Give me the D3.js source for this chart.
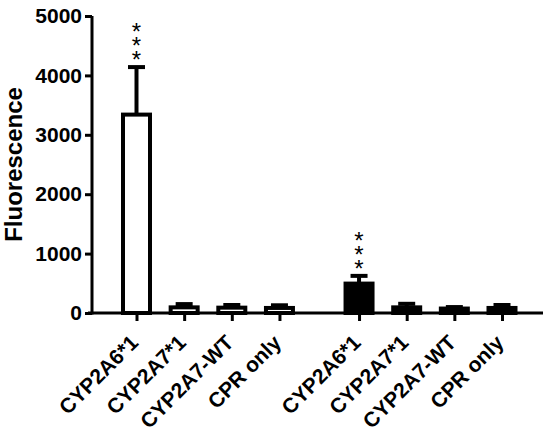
<!DOCTYPE html>
<html>
<head>
<meta charset="utf-8">
<script src="https://cdn.jsdelivr.net/npm/d3@7"></script>
<style>
  body { margin: 0; background: #fff; }
  svg text { font-family: "Liberation Sans", Arial, sans-serif; }
</style>
</head>
<body>
<div id="chart"></div>
<script>
// data
var categories = ["CYP2A6*1", "CYP2A7*1", "CYP2A7-WT", "CPR only"];
var groupFill = ["#fff", "#000"];
var means = [
    [3340, 95, 90, 85],
    [495, 95, 75, 85]
];
var errors = [
    [800, 55, 45, 45],
    [130, 60, 25, 50]
];
var stars = [
    ["***", "", "", ""],
    ["***", "", "", ""]
];
var yTicks = [0, 1000, 2000, 3000, 4000, 5000];

var margin = { top: 16, right: 7, bottom: 120, left: 92 },
    width = 550 - margin.left - margin.right,
    height = 433 - margin.top - margin.bottom;

var svg = d3.select("#chart")
    .append("svg")
    .attr("width", 550)
    .attr("height", 433)
    .append("g")
    .attr("transform", `translate(${margin.left},${margin.top})`);

// flatten groups into slots, leaving a gap between the two groups
var groupGap = 0.67;
var rows = [];
means.forEach(function (g, gi) {
    g.forEach(function (v, i) {
        rows.push({
            label: categories[i],
            slot: gi * (categories.length + groupGap) + i,
            value: v,
            err: errors[gi][i],
            star: stars[gi][i],
            fill: groupFill[gi]
        });
    });
});

var x = d3.scaleLinear()
    .domain([0, d3.max(rows, d => d.slot)])
    .range([44.5, 410]);

var y = d3.scaleLinear()
    .domain([0, 5000])
    .range([height, 0]);

var barW = 27;

// y axis
var yAxis = svg.append("g")
    .call(d3.axisLeft(y).tickValues(yTicks).tickFormat(d3.format("d"))
        .tickSize(7).tickPadding(3).tickSizeOuter(0));
yAxis.select(".domain").attr("stroke-width", 3).attr("d", `M0,${height + 1.5}V0`);
yAxis.selectAll(".tick line").attr("stroke-width", 3);
yAxis.selectAll(".tick text")
    .style("font-size", "21px")
    .style("font-weight", "bold")
    .attr("fill", "#000");

// x axis
var xAxis = svg.append("g")
    .attr("transform", `translate(0,${height})`)
    .call(d3.axisBottom(x).tickValues(rows.map(d => d.slot)).tickSize(8).tickFormat("").tickSizeOuter(0));
xAxis.select(".domain").attr("stroke-width", 3).attr("d", `M-4,0H${width}`);
xAxis.selectAll(".tick line").attr("stroke-width", 3);

xAxis.selectAll(".xlab")
    .data(rows)
    .enter()
    .append("text")
    .attr("class", "xlab")
    .attr("text-anchor", "end")
    .attr("transform", d => `translate(${x(d.slot) + 3},${31}) rotate(-45)`)
    .style("font-size", "21px")
    .style("font-weight", "bold")
    .attr("fill", "#000")
    .text(d => d.label);

// y axis title
svg.append("text")
    .attr("text-anchor", "middle")
    .attr("transform", `translate(${-70},${y(2500)}) rotate(-90)`)
    .style("font-size", "24px")
    .style("font-weight", "bold")
    .text("Fluorescence");

// error bars (upper only)
var eb = svg.selectAll(".err")
    .data(rows)
    .enter()
    .append("g")
    .attr("class", "err");
eb.append("line")
    .attr("x1", d => x(d.slot))
    .attr("x2", d => x(d.slot))
    .attr("y1", d => y(d.value))
    .attr("y2", d => y(d.value + d.err))
    .attr("stroke", "#000")
    .attr("stroke-width", 4);
eb.append("line")
    .attr("x1", d => x(d.slot) - 8.5)
    .attr("x2", d => x(d.slot) + 8.5)
    .attr("y1", d => y(d.value + d.err))
    .attr("y2", d => y(d.value + d.err))
    .attr("stroke", "#000")
    .attr("stroke-width", 4);

// bars
svg.selectAll(".bar")
    .data(rows)
    .enter()
    .append("rect")
    .attr("class", "bar")
    .attr("x", d => x(d.slot) - barW / 2)
    .attr("width", barW)
    .attr("y", d => y(d.value))
    .attr("height", d => height - y(d.value))
    .attr("fill", d => d.fill)
    .attr("stroke", "#000")
    .attr("stroke-width", 4);

// significance stars, written top-to-bottom as one text
svg.selectAll(".stars")
    .data(rows.filter(d => d.star))
    .enter()
    .append("text")
    .attr("class", "stars")
    .attr("x", d => x(d.slot))
    .attr("y", d => y(d.value + d.err) - 7)
    .attr("text-anchor", "end")
    .style("writing-mode", "vertical-rl")
    .style("text-orientation", "upright")
    .style("letter-spacing", "-13px")
    .style("font-size", "24px")
    .text(d => d.star);
</script>
</body>
</html>
